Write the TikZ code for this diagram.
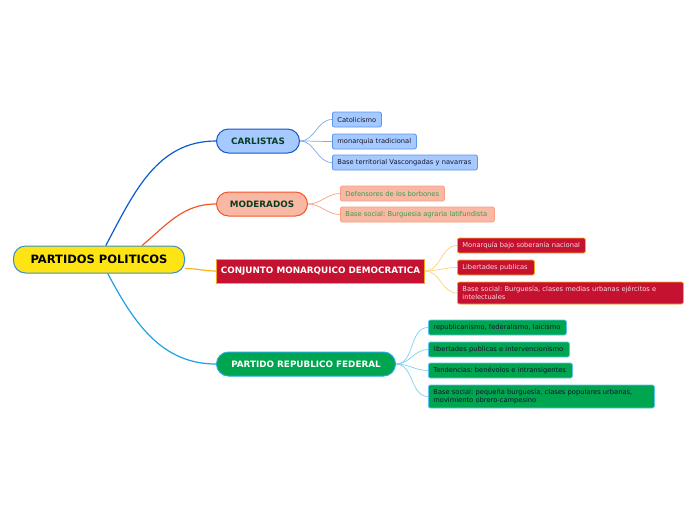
\documentclass[tikz,border=0pt]{standalone}
\usepackage{fontspec}
\setmainfont{DejaVu Sans}
\frenchspacing
\definecolor{rootfill}{HTML}{FFE414}
\definecolor{rootline}{HTML}{3A8FD0}
\definecolor{carlfill}{HTML}{A6CAFF}
\definecolor{carlline}{HTML}{1558C8}
\definecolor{carlsub}{HTML}{5A95EE}
\definecolor{carlcon}{HTML}{0B5BD0}
\definecolor{carlsubcon}{HTML}{7FA8F0}
\definecolor{modfill}{HTML}{F9B8A4}
\definecolor{modline}{HTML}{F0582A}
\definecolor{modsub}{HTML}{F8A080}
\definecolor{modtext}{HTML}{2FA14A}
\definecolor{conjfill}{HTML}{C51230}
\definecolor{conjline}{HTML}{F9A61B}
\definecolor{conjcon}{HTML}{F9B21B}
\definecolor{conjsubcon}{HTML}{FCD27A}
\definecolor{conjtext}{HTML}{F8DCE2}
\definecolor{partfill}{HTML}{00A54F}
\definecolor{partline}{HTML}{27A9E1}
\definecolor{partcon}{HTML}{1DA1E6}
\definecolor{partsub}{HTML}{5BC6EE}
\definecolor{partsubcon}{HTML}{7FD0F0}
\definecolor{darkgreen}{HTML}{083D22}
\definecolor{darktext}{HTML}{14142E}

\begin{document}
\begin{tikzpicture}[x=1pt,y=-1pt,
    topic/.style={draw,line width=1pt,anchor=west,minimum height=24pt,inner sep=0pt,
        font=\fontsize{8.8}{10}\bfseries},
    subtopic/.style={draw,line width=0.8pt,anchor=west,rounded corners=2pt,minimum height=15pt,
        inner xsep=5pt,inner ysep=1pt,align=left,font=\fontsize{6.7}{8.6}\selectfont},
    link/.style={line width=1.2pt},
    sublink/.style={line width=0.7pt}]
    \useasboundingbox (0,0) rectangle (696,520);

    % central topic
    \node[draw=rootline,fill=rootfill,line width=1pt,rounded corners=12pt,anchor=west,
        minimum width=171pt,minimum height=27pt,font=\fontsize{11.5}{13}\bfseries]
        (root) at (13,259.5) {PARTIDOS POLITICOS};

    % main topics
    \node[topic,draw=carlline,fill=carlfill,text=darkgreen,rounded corners=12pt,minimum width=83pt]
        (carl) at (216,141) {CARLISTAS};
    \node[topic,draw=modline,fill=modfill,text=darkgreen,rounded corners=12pt,minimum width=91pt]
        (mod) at (216,204) {MODERADOS};
    \node[topic,draw=conjline,fill=conjfill,text=white,minimum width=208pt]
        (conj) at (216,271) {CONJUNTO MONARQUICO DEMOCRATICA};
    \node[topic,draw=partline,fill=partfill,text=white,rounded corners=12pt,minimum width=179pt]
        (part) at (216,364) {PARTIDO REPUBLICO FEDERAL};

    \draw[link,carlcon] (root.64) to[out=62,in=180] (carl.west);
    \draw[link,modline] (root.18) to[out=40,in=180] (mod.west);
    \draw[link,conjcon] (root.-6) to[out=0,in=180] (conj.west);
    \draw[link,partcon] (root.-58) to[out=-62,in=180] (part.west);

    % CARLISTAS
    \node[subtopic,draw=carlsub,fill=carlfill,text=darktext,text width=39pt] (carl1) at (332,119.5) {Catolicismo};
    \node[subtopic,draw=carlsub,fill=carlfill,text=darktext,text width=74pt] (carl2) at (332,141.5) {monarquia tradicional};
    \node[subtopic,draw=carlsub,fill=carlfill,text=darktext,text width=135pt] (carl3) at (332,162.5) {Base territorial Vascongadas y navarras};
    \draw[sublink,carlsubcon] (carl.east) to[out=0,in=180] (carl1.west);
    \draw[sublink,carlsubcon] (carl.east) to[out=0,in=180] (carl2.west);
    \draw[sublink,carlsubcon] (carl.east) to[out=0,in=180] (carl3.west);

    % MODERADOS
    \node[subtopic,draw=modsub,fill=modfill,text=modtext,text width=94pt] (mod1) at (340,193.5) {Defensores de los borbones};
    \node[subtopic,draw=modsub,fill=modfill,text=modtext,text width=144pt] (mod2) at (340,214.5) {Base social: Burguesia agraria latifundista};
    \draw[sublink,modsub] (mod.east) to[out=0,in=180] (mod1.west);
    \draw[sublink,modsub] (mod.east) to[out=0,in=180] (mod2.west);

    % CONJUNTO MONARQUICO DEMOCRATICA
    \node[subtopic,draw=conjline,fill=conjfill,text=conjtext,text width=118pt] (conj1) at (457,245.5) {Monarquía bajo soberanía nacional};
    \node[subtopic,draw=conjline,fill=conjfill,text=conjtext,text width=67pt] (conj2) at (457,267.5) {Libertades publicas};
    \node[subtopic,draw=conjline,fill=conjfill,text=conjtext,text width=216pt,minimum height=22pt] (conj3) at (457,293)
        {Base social: Burguesía, clases medias urbanas ejércitos e\\intelectuales};
    \draw[sublink,conjsubcon] (conj.east) to[out=0,in=180] (conj1.west);
    \draw[sublink,conjsubcon] (conj.east) to[out=0,in=180] (conj2.west);
    \draw[sublink,conjsubcon] (conj.east) to[out=0,in=180] (conj3.west);

    % PARTIDO REPUBLICO FEDERAL
    \node[subtopic,draw=partsub,fill=partfill,text=darktext,text width=128pt] (part1) at (428,327.5) {republicanismo, federalismo, laicismo};
    \node[subtopic,draw=partsub,fill=partfill,text=darktext,text width=131pt] (part2) at (428,349.5) {libertades publicas e intervencionismo};
    \node[subtopic,draw=partsub,fill=partfill,text=darktext,text width=134pt] (part3) at (428,370.5) {Tendencias: benévolos e intransigentes};
    \node[subtopic,draw=partsub,fill=partfill,text=darktext,text width=216pt,minimum height=23pt] (part4) at (428,396.5)
        {Base social: pequeña burguesía, clases populares urbanas,\\movimiento obrero-campesino};
    \draw[sublink,partsubcon] (part.east) to[out=0,in=180] (part1.west);
    \draw[sublink,partsubcon] (part.east) to[out=0,in=180] (part2.west);
    \draw[sublink,partsubcon] (part.east) to[out=0,in=180] (part3.west);
    \draw[sublink,partsubcon] (part.east) to[out=0,in=180] (part4.west);
\end{tikzpicture}
\end{document}
